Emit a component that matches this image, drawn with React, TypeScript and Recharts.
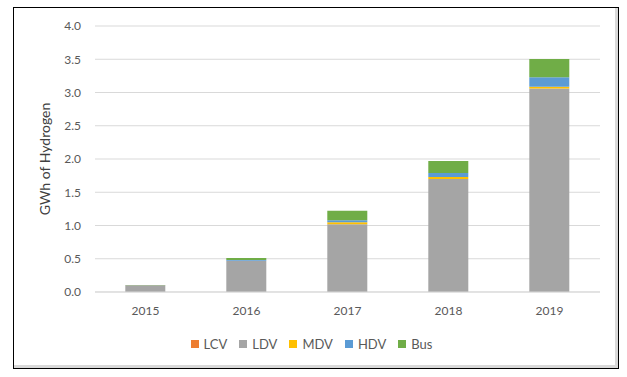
import React from 'react';
import { BarChart, Bar, XAxis, YAxis, CartesianGrid, Legend } from 'recharts';

const years = ['2015', '2016', '2017', '2018', '2019'];
const lcv = [0, 0, 0, 0, 0];
const ldv = [0.1, 0.47, 1.02, 1.7, 3.06];
const mdv = [0, 0, 0.03, 0.03, 0.025];
const hdv = [0, 0.01, 0.03, 0.06, 0.145];
const bus = [0.005, 0.03, 0.14, 0.18, 0.275];
const yTicks = [0, 0.5, 1, 1.5, 2, 2.5, 3, 3.5, 4];

const series = [
  { key: 'LCV', color: '#ED7D31' },
  { key: 'LDV', color: '#A5A5A5' },
  { key: 'MDV', color: '#FFC000' },
  { key: 'HDV', color: '#5B9BD5' },
  { key: 'Bus', color: '#70AD47' },
];

const data = years.map((year, i) => ({
  year,
  LCV: lcv[i],
  LDV: ldv[i],
  MDV: mdv[i],
  HDV: hdv[i],
  Bus: bus[i],
}));

const font = 'Lato, "Open Sans", sans-serif';

const LegendContent = () => (
  <div style={{ display: 'flex', justifyContent: 'center', fontFamily: font, fontSize: 13, color: '#595959', lineHeight: '16px' }}>
    {series.map((s) => (
      <div key={s.key} style={{ display: 'flex', alignItems: 'center', marginRight: 12 }}>
        <span style={{ width: 8, height: 8, background: s.color, display: 'inline-block', marginRight: 5 }} />
        <span>{s.key}</span>
      </div>
    ))}
  </div>
);

export default function App() {
  return (
    <div style={{ position: 'absolute', left: 0, top: 0, width: 627, height: 377, background: '#fff' }}>
      <div
        style={{
          position: 'absolute',
          left: 13,
          top: 7,
          width: 604,
          height: 360,
          border: '1.5px solid #000',
          boxShadow: 'inset -3px -3px 0 #d9d9d9',
        }}
      />
      <div style={{ position: 'absolute', left: 0, top: 0 }}>
        <BarChart
          width={627}
          height={377}
          data={data}
          margin={{ top: 26, right: 27, bottom: 23, left: 35 }}
          barCategoryGap="30%"
        >
          <CartesianGrid vertical={false} stroke="#d9d9d9" />
          <XAxis
            dataKey="year"
            axisLine={{ stroke: '#d9d9d9' }}
            tickLine={false}
            tickSize={0}
            tickMargin={14}
            height={44}
            tick={{ fill: '#595959', fontSize: 12, fontFamily: font }}
          />
          <YAxis
            width={60}
            domain={[0, 4]}
            ticks={yTicks}
            tickFormatter={(v: number) => v.toFixed(1)}
            axisLine={false}
            tickLine={false}
            tickSize={0}
            tickMargin={14}
            tick={{ fill: '#595959', fontSize: 12, fontFamily: font }}
            label={{
              value: 'GWh of Hydrogen',
              angle: -90,
              position: 'insideLeft',
              offset: 10,
              style: { textAnchor: 'middle', fill: '#404040', fontSize: 14, fontFamily: font },
            }}
          />
          <Legend verticalAlign="bottom" height={18} content={<LegendContent />} />
          {series.map((s) => (
            <Bar key={s.key} dataKey={s.key} stackId="a" fill={s.color} isAnimationActive={false} />
          ))}
        </BarChart>
      </div>
    </div>
  );
}
